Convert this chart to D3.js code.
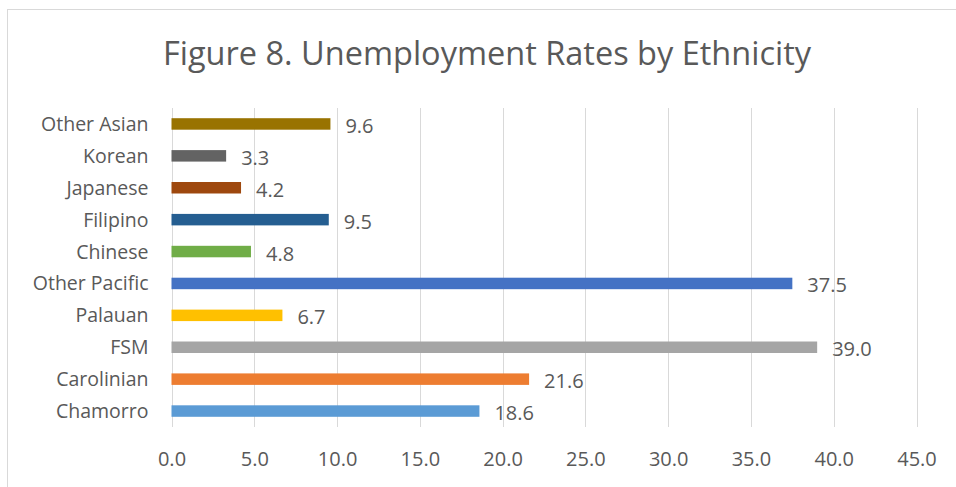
<!DOCTYPE html>
<html>
<head>
<meta charset="utf-8">
<script src="https://cdn.jsdelivr.net/npm/d3@7"></script>
<style>
  html, body { margin: 0; padding: 0; background: #fff; }
  svg { display: block; }
  text { font-family: "Open Sans", "Noto Sans", sans-serif; fill: #595959; }
</style>
</head>
<body>
<svg id="chart" width="956" height="487"></svg>
<script>
// Unemployment rate (%) by ethnicity, listed bottom to top
const categories = ["Chamorro", "Carolinian", "FSM", "Palauan", "Other Pacific",
                    "Chinese", "Filipino", "Japanese", "Korean", "Other Asian"];
const rates = [18.6, 21.6, 39.0, 6.7, 37.5, 4.8, 9.5, 4.2, 3.3, 9.6];
const barColors = ["#5B9BD5", "#ED7D31", "#A5A5A5", "#FFC000", "#4472C4",
                   "#70AD47", "#255E91", "#9E480E", "#636363", "#997300"];
const xTicks = [0, 5, 10, 15, 20, 25, 30, 35, 40, 45];
const titleText = "Figure 8. Unemployment Rates by Ethnicity";

const FONT = "\"Open Sans\", \"Noto Sans\", sans-serif";
const svg = d3.select("#chart");

// chart frame (extends past the right and bottom edges)
svg.append("rect")
  .attr("x", 7.5).attr("y", 9.5)
  .attr("width", 1000).attr("height", 600)
  .attr("fill", "none").attr("stroke", "#D9D9D9").attr("stroke-width", 1);

const plot = { left: 171.5, right: 916.5, top: 108, bottom: 427 };

const x = d3.scaleLinear().domain([0, 45]).range([plot.left, plot.right]);
const y = d3.scaleBand()
  .domain(categories.slice().reverse())
  .range([plot.top, plot.bottom])
  .paddingInner(0.64).paddingOuter(0.32);

// title
svg.append("text")
  .attr("x", 487).attr("y", 65)
  .attr("text-anchor", "middle")
  .style("font-size", "32.5px")
  .text(titleText);

// vertical gridlines
svg.append("g")
  .selectAll("line")
  .data(xTicks)
  .join("line")
  .attr("x1", d => Math.round(x(d)) + 0.5)
  .attr("x2", d => Math.round(x(d)) + 0.5)
  .attr("y1", plot.top).attr("y2", plot.bottom)
  .attr("stroke", "#D9D9D9").attr("stroke-width", 1);

// x axis labels
const xAxis = d3.axisBottom(x)
  .tickValues(xTicks)
  .tickFormat(d3.format(".1f"))
  .tickSize(0)
  .tickPadding(0);
const gx = svg.append("g")
  .attr("transform", `translate(0,${plot.bottom})`)
  .call(xAxis);
gx.select(".domain").remove();
gx.selectAll("text")
  .attr("dy", null)
  .attr("y", 39)
  .style("font-size", "20px")
  .style("font-family", FONT)
  .attr("fill", "#595959");

// category labels
const yAxis = d3.axisLeft(y).tickSize(0).tickPadding(23);
const gy = svg.append("g")
  .attr("transform", `translate(${plot.left},0)`)
  .call(yAxis);
gy.select(".domain").remove();
gy.selectAll("text")
  .attr("dy", "0.36em")
  .style("font-size", "19.5px")
  .style("font-family", FONT)
  .attr("fill", "#595959");

const rows = categories.map((c, i) => ({ cat: c, val: rates[i], color: barColors[i] }));

// bars
svg.append("g")
  .selectAll("rect")
  .data(rows)
  .join("rect")
  .attr("x", x(0))
  .attr("y", d => y(d.cat))
  .attr("width", d => x(d.val) - x(0))
  .attr("height", y.bandwidth())
  .attr("fill", d => d.color);

// value labels
svg.append("g")
  .selectAll("text")
  .data(rows)
  .join("text")
  .attr("x", d => x(d.val) + 15)
  .attr("y", d => y(d.cat) + y.bandwidth() / 2 + 9)
  .style("font-size", "20px")
  .attr("fill", "#404040")
  .text(d => d.val.toFixed(1));
</script>
</body>
</html>
